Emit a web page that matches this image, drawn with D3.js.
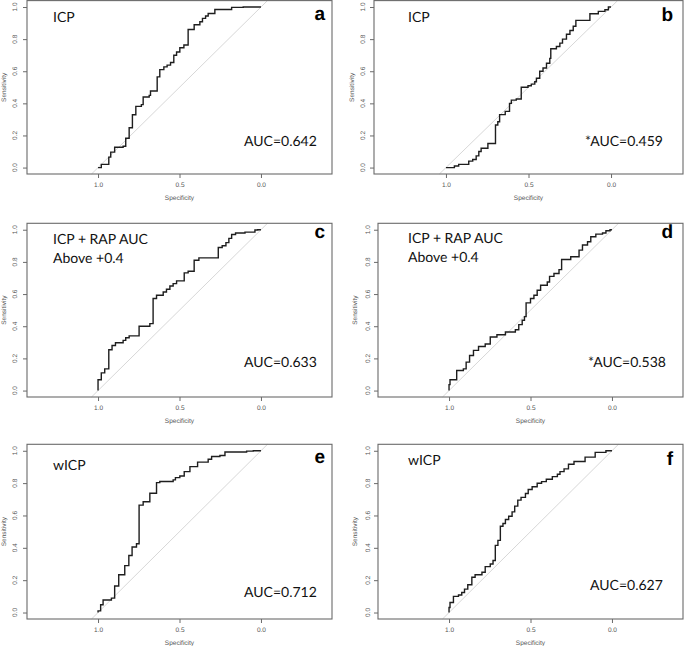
<!DOCTYPE html>
<html><head><meta charset="utf-8">
<script src="https://cdnjs.cloudflare.com/ajax/libs/d3/7.8.5/d3.min.js"></script>
<style>body{margin:0;background:#fff}svg{display:block}text{text-rendering:geometricPrecision}</style>
</head><body><svg id="c" width="685" height="646"></svg>
<script>
// ---- data ----
const xTicks = [1.0, 0.5, 0.0];
const yTicks = [0.0, 0.2, 0.4, 0.6, 0.8, 1.0];
const panelLetters = ["a","b","c","d","e","f"];
const panelTitles = [["ICP"],["ICP"],["ICP + RAP AUC","Above +0.4"],["ICP + RAP AUC","Above +0.4"],["wICP"],["wICP"]];
const aucLabels = ["AUC=0.642","*AUC=0.459","AUC=0.633","*AUC=0.538","AUC=0.712","AUC=0.627"];

const specA = [1,0.98,0.934,0.922,0.898,0.846,0.83,0.809,0.789,0.768,0.734,0.723,0.686,0.678,0.637,0.621,0.596,0.576,0.555,0.535,0.518,0.498,0.473,0.447,0.41,0.375,0.359,0.34,0.324,0.283,0.18,0.109,0];
const sensA = [0,0.02,0.065,0.096,0.127,0.133,0.183,0.248,0.329,0.381,0.392,0.44,0.45,0.477,0.565,0.61,0.627,0.638,0.654,0.70,0.72,0.746,0.763,0.86,0.89,0.908,0.929,0.944,0.96,0.985,0.998,1.0,1.0];

const specB = [1,0.949,0.923,0.862,0.838,0.817,0.801,0.787,0.746,0.70,0.686,0.675,0.641,0.615,0.604,0.574,0.544,0.503,0.483,0.462,0.452,0.432,0.412,0.391,0.371,0.365,0.331,0.31,0.294,0.27,0.249,0.229,0.213,0.128,0.077,0.037,0.016,0];
const sensB = [0,0.01,0.02,0.04,0.05,0.073,0.1,0.12,0.15,0.265,0.285,0.33,0.35,0.4,0.42,0.427,0.5,0.51,0.52,0.535,0.556,0.6,0.62,0.65,0.68,0.74,0.754,0.775,0.8,0.83,0.854,0.88,0.917,0.958,0.973,0.983,1.0,1.0];

const specC = [1,1,0.98,0.959,0.934,0.914,0.893,0.846,0.83,0.809,0.748,0.682,0.662,0.641,0.60,0.58,0.559,0.539,0.518,0.471,0.447,0.41,0.381,0.262,0.238,0.215,0.197,0.18,0.156,0.098,0.037,0.02,0];
const sensC = [0,0.067,0.11,0.135,0.254,0.28,0.297,0.312,0.328,0.34,0.40,0.416,0.572,0.593,0.613,0.63,0.65,0.665,0.682,0.732,0.742,0.81,0.825,0.89,0.9,0.92,0.946,0.97,0.98,0.985,0.998,1.0,1.0];

const specD = [1,1,0.994,0.953,0.912,0.895,0.874,0.85,0.819,0.778,0.747,0.706,0.654,0.593,0.572,0.551,0.537,0.527,0.5,0.479,0.459,0.438,0.397,0.383,0.356,0.325,0.309,0.253,0.202,0.181,0.15,0.13,0.099,0.058,0.037,0.012,0];
const sensD = [0,0.037,0.067,0.125,0.135,0.177,0.218,0.25,0.274,0.29,0.333,0.347,0.364,0.378,0.41,0.437,0.46,0.545,0.572,0.593,0.624,0.655,0.675,0.71,0.728,0.752,0.815,0.832,0.873,0.905,0.925,0.956,0.973,0.98,0.994,1.0,1.0];

const specE = [1,1,0.984,0.969,0.918,0.898,0.873,0.836,0.811,0.791,0.764,0.748,0.723,0.682,0.641,0.621,0.539,0.525,0.498,0.471,0.436,0.389,0.324,0.303,0.252,0.221,0.088,0.047,0];
const sensE = [0,0.01,0.048,0.077,0.089,0.164,0.234,0.29,0.353,0.405,0.425,0.664,0.685,0.737,0.803,0.81,0.82,0.834,0.844,0.871,0.902,0.93,0.948,0.965,0.971,0.992,0.998,1.0,1.0];

const specF = [1,1,0.994,0.973,0.942,0.922,0.905,0.885,0.86,0.84,0.798,0.778,0.747,0.73,0.716,0.7,0.685,0.669,0.654,0.634,0.613,0.597,0.578,0.558,0.531,0.514,0.49,0.459,0.432,0.403,0.366,0.335,0.319,0.294,0.267,0.233,0.165,0.103,0.037,0];
const sensF = [0,0.031,0.062,0.1,0.108,0.124,0.145,0.172,0.218,0.234,0.249,0.284,0.3,0.322,0.415,0.446,0.533,0.55,0.575,0.595,0.622,0.658,0.695,0.712,0.736,0.761,0.778,0.799,0.809,0.824,0.84,0.855,0.871,0.888,0.917,0.934,0.961,0.99,1.0,1.0];

const specs = [specA,specB,specC,specD,specE,specF];
const senss = [sensA,sensB,sensC,sensD,sensE,sensF];

// ---- layout ----
const boxes = [
  {l:27,r:332,t:0.6,b:174, yl:15, yt:4, title:[53,21], auc:[244,145], let:[325,19.5]},
  {l:374,r:683,t:0.6,b:174, yl:363, yt:352, title:[408,21], auc:[585,145], let:[673,20.5]},
  {l:27,r:332,t:223.3,b:397, yl:15, yt:4, title:[53,21], auc:[244,144], let:[325,15]},
  {l:378,r:683,t:223.3,b:397, yl:368, yt:355, title:[408,20], auc:[588,144], let:[673,15]},
  {l:27,r:332,t:444.3,b:619, yl:15, yt:4, title:[53,25.5], auc:[244,153], let:[325,19]},
  {l:378,r:683,t:444.3,b:619, yl:368, yt:355, title:[408,21], auc:[590,146], let:[673,21]}
];

const svg = d3.select("#c");
const gray = "#6a6a6a";
const tickFont = "Liberation Sans, Arial, sans-serif";
const bigFont = "Lato, 'Open Sans', sans-serif";

boxes.forEach((B,i)=>{
  const g = svg.append("g");
  const x = d3.scaleLinear().domain([1.436,-0.436]).range([B.l,B.r]);
  const y = d3.scaleLinear().domain([-0.04,1.04]).range([B.b,B.t]);

  // diagonal
  g.append("line").attr("x1",x(1.04)).attr("y1",y(-0.04)).attr("x2",x(-0.04)).attr("y2",y(1.04))
    .attr("stroke","#d2d2d2").attr("stroke-width",0.9);

  // curve
  const pts = specs[i].map((s,k)=>[s,senss[i][k]]);
  const line = d3.line().x(d=>x(d[0])).y(d=>y(d[1])).curve(d3.curveStepAfter);
  g.append("path").attr("d",line(pts)).attr("fill","none").attr("stroke","#1e1e1e").attr("stroke-width",1.4);

  // box
  g.append("rect").attr("x",B.l).attr("y",B.t).attr("width",B.r-B.l).attr("height",B.b-B.t)
    .attr("fill","none").attr("stroke",gray).attr("stroke-width",1.1);

  // x axis
  const xa = g.append("g").attr("transform",`translate(0,${B.b})`)
    .call(d3.axisBottom(x).tickValues(xTicks).tickFormat(d3.format(".1f")).tickSize(4).tickSizeOuter(0));
  xa.select(".domain").remove();
  xa.selectAll("line").attr("stroke",gray);
  xa.selectAll("text").attr("fill","#555").attr("font-family",tickFont).attr("font-size",6.5).attr("dy","0.9em");

  // y axis
  const ya = g.append("g").attr("transform",`translate(${B.l},0)`)
    .call(d3.axisLeft(y).tickValues(yTicks).tickFormat(d3.format(".1f")).tickSize(4).tickSizeOuter(0));
  ya.select(".domain").remove();
  ya.selectAll("line").attr("stroke",gray);
  ya.selectAll("text").remove();
  yTicks.forEach(v=>{
    g.append("text").attr("transform",`translate(${B.yl},${y(v)}) rotate(-90)`)
      .attr("text-anchor","middle").attr("dy","0.35em")
      .attr("fill","#555").attr("font-family",tickFont).attr("font-size",6.5).text(d3.format(".1f")(v));
  });

  // axis titles
  g.append("text").attr("transform",`translate(${B.yt},${y(0.5)}) rotate(-90)`)
    .attr("text-anchor","middle").attr("dy","0.35em")
    .attr("fill","#555").attr("font-family",tickFont).attr("font-size",6.5).text("Sensitivity");
  g.append("text").attr("x",x(0.5)).attr("y",B.b+26)
    .attr("text-anchor","middle").attr("fill","#555").attr("font-family",tickFont).attr("font-size",6.5).text("Specificity");

  // titles
  panelTitles[i].forEach((t,k)=>{
    g.append("text").attr("x",B.title[0]).attr("y",B.t+B.title[1]+k*18.5)
      .attr("font-family",bigFont).attr("font-size",14).attr("fill","#111").text(t);
  });
  g.append("text").attr("x",B.auc[0]).attr("y",B.t+B.auc[1])
    .attr("font-family",bigFont).attr("font-size",14).attr("fill","#111").text(aucLabels[i]);
  g.append("text").attr("x",B.let[0]).attr("y",B.t+B.let[1]).attr("text-anchor","end")
    .attr("font-family","Liberation Sans, Arial, sans-serif").attr("font-weight","bold").attr("font-size",19)
    .attr("fill","#000").text(panelLetters[i]);
});
</script></body></html>
